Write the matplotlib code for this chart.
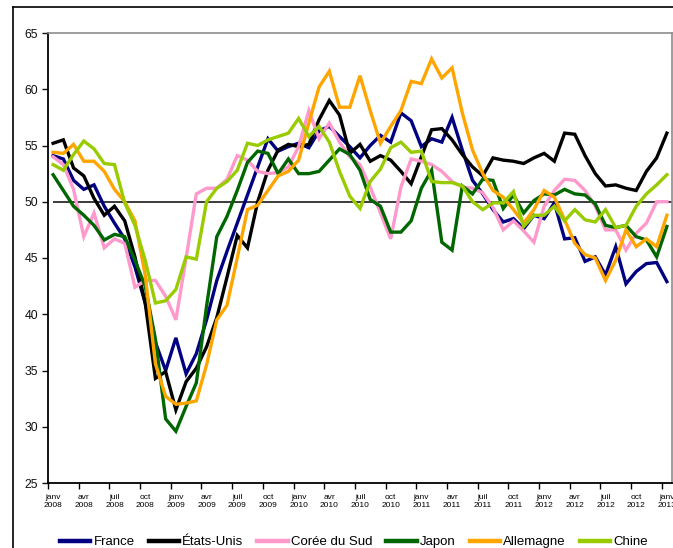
import matplotlib

matplotlib.use("Agg")
import matplotlib.pyplot as plt
from matplotlib.lines import Line2D

plt.rcParams["font.family"] = ["Liberation Sans", "DejaVu Sans"]

# --- data: monthly index, janv 2008 .. janv 2013 ---
MONTHS_FR = ["janv", "févr", "mars", "avr", "mai", "juin",
             "juil", "août", "sept", "oct", "nov", "déc"]
YEARS = list(range(2008, 2014))
months = [(y, m) for y in YEARS for m in range(12)][:61]

france = [54.1, 53.8, 51.9, 51.1, 51.5, 49.6, 48.1, 46.7, 44.2, 41.0,
          37.5, 35.0, 37.9, 34.7, 36.5, 39.5, 43.0, 45.6, 48.1, 50.6,
          53.1, 55.6, 54.5, 54.9, 55.2, 54.8, 56.3, 56.7, 55.8, 54.9,
          53.9, 55.0, 55.9, 55.3, 57.9, 57.2, 54.9, 55.6, 55.3, 57.5,
          54.6, 51.9, 50.7, 49.3, 48.2, 48.5, 47.6, 48.8, 48.5, 49.9,
          46.7, 46.8, 44.7, 45.1, 43.5, 46.0, 42.7, 43.8, 44.5, 44.6, 42.9]
etats_unis = [55.2, 55.5, 53.0, 52.3, 50.3, 48.8, 49.6, 48.3, 45.1, 41.0,
              34.3, 34.9, 31.5, 34.0, 35.2, 37.1, 39.7, 43.3, 47.0, 45.9,
              50.0, 52.8, 54.6, 55.1, 54.9, 55.1, 57.3, 59.0, 57.7, 54.3,
              55.1, 53.6, 54.1, 53.7, 52.7, 51.6, 54.0, 56.4, 56.5, 55.5,
              54.2, 53.1, 52.3, 53.9, 53.7, 53.6, 53.4, 53.9, 54.3, 53.6,
              56.1, 56.0, 54.1, 52.5, 51.4, 51.5, 51.2, 51.0, 52.7, 53.9, 56.1]
coree = [54.0, 53.3, 51.1, 46.9, 49.0, 45.9, 46.7, 46.3, 42.4, 43.0,
         43.0, 41.6, 39.5, 45.0, 50.7, 51.2, 51.2, 52.0, 54.1, 53.7,
         52.7, 52.5, 52.6, 53.1, 54.9, 58.1, 55.6, 57.0, 55.3, 54.0,
         53.3, 51.3, 49.0, 46.7, 51.3, 53.8, 53.6, 53.3, 52.7, 51.8,
         51.3, 51.2, 50.8, 49.5, 47.5, 48.3, 47.4, 46.4, 49.6, 51.0,
         52.0, 51.9, 51.0, 49.6, 47.5, 47.5, 45.7, 47.2, 48.1, 50.0, 50.0]
japon = [52.4, 51.0, 49.6, 48.8, 47.9, 46.6, 47.1, 46.9, 44.8, 42.5,
         37.8, 30.7, 29.6, 31.8, 33.9, 40.7, 46.9, 48.7, 51.0, 53.5,
         54.5, 54.3, 52.5, 53.8, 52.5, 52.5, 52.7, 53.7, 54.7, 54.2,
         52.8, 50.2, 49.6, 47.3, 47.3, 48.3, 51.2, 52.8, 46.4, 45.7,
         51.4, 50.7, 52.0, 51.9, 49.4, 50.6, 49.0, 50.1, 50.7, 50.6,
         51.1, 50.7, 50.6, 49.8, 47.9, 47.7, 47.9, 46.9, 46.6, 45.1, 47.8]
allemagne = [54.4, 54.3, 55.1, 53.6, 53.6, 52.7, 51.1, 50.0, 48.3, 43.5,
             35.6, 32.7, 32.0, 32.1, 32.3, 35.5, 39.5, 40.8, 45.0, 49.3,
             49.7, 51.0, 52.3, 52.7, 53.7, 57.0, 60.2, 61.6, 58.4, 58.4,
             61.2, 58.1, 55.2, 56.7, 58.1, 60.7, 60.5, 62.7, 61.0, 61.9,
             57.9, 54.6, 52.5, 51.0, 50.4, 49.3, 48.1, 49.3, 51.0, 50.4,
             48.4, 46.3, 45.3, 45.0, 43.0, 44.8, 47.5, 46.0, 46.7, 46.0, 48.8]
chine = [53.3, 52.8, 54.2, 55.4, 54.7, 53.4, 53.3, 49.9, 47.9, 44.8,
         41.0, 41.2, 42.2, 45.1, 44.9, 50.0, 51.2, 51.8, 52.8, 55.2,
         55.0, 55.5, 55.8, 56.1, 57.4, 55.8, 56.7, 55.3, 52.7, 50.5,
         49.4, 51.8, 52.9, 54.8, 55.3, 54.4, 54.5, 51.8, 51.7, 51.7,
         51.4, 50.0, 49.3, 49.9, 49.9, 50.9, 47.8, 48.8, 48.8, 49.6,
         48.3, 49.3, 48.4, 48.2, 49.3, 47.7, 47.9, 49.6, 50.7, 51.5, 52.4]

series = [
    ("France", france, "#000080"),
    ("États-Unis", etats_unis, "#000000"),
    ("Corée du Sud", coree, "#FF99CC"),
    ("Japon", japon, "#006600"),
    ("Allemagne", allemagne, "#FFA500"),
    ("Chine", chine, "#99CC00"),
]
THRESHOLD = 50

W, H = 673, 548
fig = plt.figure(figsize=(W / 100, H / 100), dpi=100)
ax = fig.add_axes([48 / W, 1 - 483 / H, 624 / W, 450 / H])

x = list(range(len(months)))
for name, vals, color in series:
    ax.plot(x, vals, color=color, lw=2.4, label=name, solid_joinstyle="miter")
ax.hlines(THRESHOLD, x[0], len(x) - 0.5, color="#1a1a1a", lw=1.2, zorder=1)

ax.set_xlim(-0.5, len(x) - 0.5)
ax.set_ylim(25, 65)
ax.set_yticks(range(25, 66, 5))
ax.tick_params(axis="y", direction="out", length=4.5, width=1, labelsize=8.8,
               pad=2.5, colors="#111111")

# tick marks between categories, labels under every third month
ax.set_xticks([i - 0.5 for i in x[::3] if i - 0.5 < len(x) - 1])
ax.set_xticklabels([])
ax.set_xticks(x[::3], minor=True)
ax.set_xticklabels([f"{MONTHS_FR[m]}\n{y}" for y, m in months[::3]], minor=True)
ax.tick_params(axis="x", which="major", direction="out", length=4, width=1)
ax.tick_params(axis="x", which="minor", length=0, labelsize=6, pad=8)

for s in ("left", "bottom"):
    ax.spines[s].set_color("black")
    ax.spines[s].set_linewidth(1.3)
for s in ("top", "right"):
    ax.spines[s].set_color("#8c8c8c")
    ax.spines[s].set_linewidth(1.2)

# chart-area outer frame (cropped on the right and bottom)
fig.add_artist(Line2D([13 / W, 13 / W], [0, 1 - 7 / H], color="black", lw=1.2))
fig.add_artist(Line2D([13 / W, 1], [1 - 7 / H, 1 - 7 / H], color="black", lw=1.2))

handles = [Line2D([0], [0], color=c, lw=3.2) for _, _, c in series]
fig.legend(handles, [n for n, _, _ in series], loc="center",
           bbox_to_anchor=(354 / W, 1 - 542 / H), ncol=6, frameon=False,
           fontsize=9.5, handlelength=2.3, handletextpad=0.25,
           columnspacing=1.05, borderpad=0)

fig.savefig("out.png", dpi=100)
